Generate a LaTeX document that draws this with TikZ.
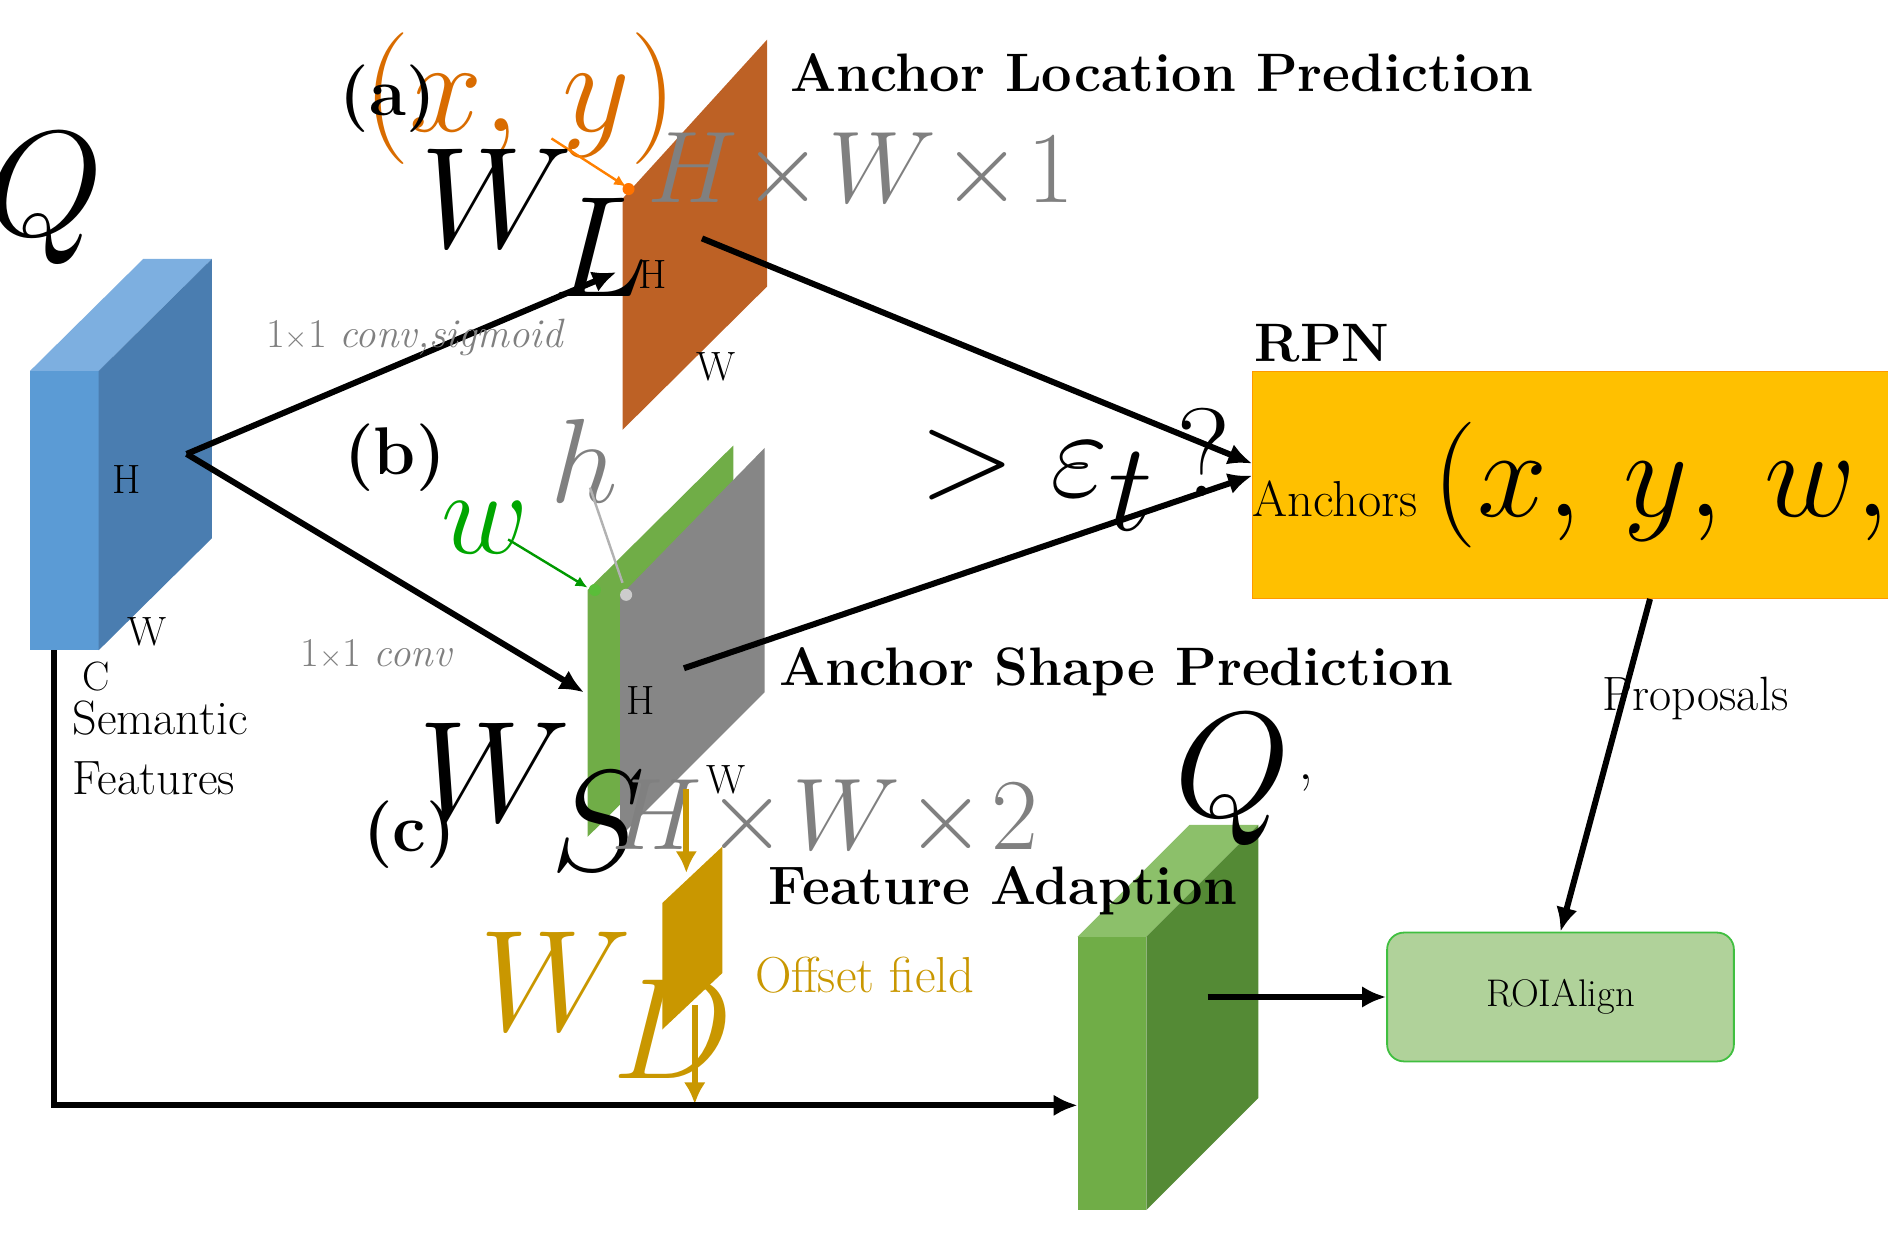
\documentclass[tikz,border=0pt]{standalone}
\usetikzlibrary{arrows.meta}
\newcommand{\mS}[2]{\scalebox{#1}{$#2$}}
\begin{document}
\begin{tikzpicture}[x=1pt,y=-1pt,
  lbl/.style={inner sep=0pt,font=\fontsize{34}{38}\selectfont},
  big/.style={inner sep=0pt,font=\fontsize{40}{44}\selectfont},
  bld/.style={inner sep=0pt,font=\fontsize{45}{48}\selectfont\bfseries},
  gry/.style={inner sep=0pt,text=gray,font=\fontsize{34}{38}\selectfont},
  arr/.style={line width=5pt,-{Latex[length=20pt,width=18pt]}},
  thin/.style={line width=2pt,-{Latex[length=10pt,width=9pt]}}]
\definecolor{bF}{HTML}{5B9BD5}\definecolor{bT}{HTML}{7DAFE0}\definecolor{bS}{HTML}{4A7DB0}
\definecolor{gF}{HTML}{70AD47}\definecolor{gT}{HTML}{8CC06A}\definecolor{gS}{HTML}{548A35}
\definecolor{org}{HTML}{BD6125}\definecolor{gold}{HTML}{C99700}\definecolor{yel}{HTML}{FFC000}
\useasboundingbox (0,0) rectangle (1568,1030);
% Q box
\fill[bF] (25,308) rectangle (82,540);
\fill[bT] (25,308)--(82,308)--(176,215)--(119,215)--cycle;
\fill[bS] (82,308)--(176,215)--(176,447)--(82,540)--cycle;
\node[big] (Q) at (38,165) {\mS{5}{Q}};
\node[lbl] (qh) at (105,398) {H};
\node[lbl] (qw) at (122,525) {W};
\node[lbl] (qc) at (80,562) {C};
\node[big,align=left,anchor=north west,font=\fontsize{40}{50}\selectfont] (sf) at (60,582) {Semantic\\Features};
\coordinate (qo) at (155,377);
% orange plane
\fill[org] (517,165)--(637,33)--(637,238)--(517,357)--cycle;
\fill[orange!90!red] (522,157) circle (5);
\coordinate (xyd) at (520,155);
\node[big,text=orange!85!black] (xy) at (432,82) {\mS{4.4}{(x,\,y)}};
\draw[thin,orange] (458,115) -- (xyd);
\node[lbl] (ah) at (542,228) {H};
\node[lbl] (aw) at (595,305) {W};
\node[big] (WL) at (445,185) {\mS{4.8}{W_L}};
\node[gry] (d1) at (715,143) {\mS{3.4}{H\!\times\!W\!\times\!1}};
\node[bld] (alp) at (965,60) {Anchor Location Prediction};
\node[bld,font=\fontsize{56}{60}\selectfont\bfseries] (a) at (322,82) {(a)};
% green / gray planes
\fill[gF] (488,490)--(609,370)--(609,575)--(488,695)--cycle;
\fill[gray!95] (515,495)--(635,372)--(635,575)--(515,695)--cycle;
\fill[gF!80!green] (494,490) circle (5);
\fill[gray!40] (520,494) circle (5);
\coordinate (wd) at (488,488);\coordinate (hd) at (517,484);
\node[lbl,text=green!65!black] (w) at (403,438) {\mS{4}{w}};
\draw[thin,green!60!black] (422,448) -- (wd);
\node[lbl,text=gray] (h) at (485,383) {\mS{4}{h}};
\draw[line width=2pt,gray!60] (490,405) -- (hd);
\node[lbl] (bh) at (532,582) {H};
\node[lbl] (bw) at (603,648) {W};
\node[big] (WS) at (443,662) {\mS{4.8}{W_S}};
\node[gry] (d2) at (685,680) {\mS{3.4}{H\!\times\!W\!\times\!2}};
\node[bld,font=\fontsize{56}{60}\selectfont\bfseries] (b) at (328,380) {(b)};
\node[bld,font=\fontsize{56}{60}\selectfont\bfseries] (c) at (340,693) {(c)};
\node[bld] (asp) at (927,558) {Anchor Shape Prediction};
% conv arrows
\coordinate (ain) at (512,226);\coordinate (bin) at (485,575);
\draw[arr] (qo) -- (ain);
\draw[arr] (qo) -- (bin);
\node[gry] (c1) at (345,280) {1$\times$1 \textit{conv,sigmoid}};
\node[gry] (c2) at (313,543) {1$\times$1 \textit{conv}};
% RPN
\node[fill=yel,draw=orange!80!yellow,minimum width=510pt,minimum height=189pt,inner sep=0pt,anchor=north west,font=\fontsize{42}{46}\selectfont] (rpn) at (1040,308) {Anchors \mS{4.2}{(x,\,y,\,w,\,h)}};
\node[bld] (rl) at (1098,285) {RPN};
\coordinate (ao) at (583,198);\coordinate (bo) at (568,555);
\draw[arr] (ao) -- (1040,385);
\draw[arr] (bo) -- (1040,395);
\node[lbl] (eps) at (893,390) {\mS{4.2}{>\varepsilon_t\,?}};
% ROIAlign
\node[draw=green!50!gray,line width=1.5pt,fill=gF!55!white,rounded corners=14pt,minimum width=288pt,minimum height=107pt,font=\fontsize{32}{36}\selectfont] (roi) at (1296,828) {ROIAlign};
\draw[arr] (rpn.south) -- (roi.north);
\node[big] (prop) at (1408,580) {Proposals};
% Q' box
\fill[gF] (895,778) rectangle (952,1005);
\fill[gT] (895,778)--(952,778)--(1045,685)--(988,685)--cycle;
\fill[gS] (952,778)--(1045,685)--(1045,912)--(952,1005)--cycle;
\node[big] (Qp) at (1033,648) {\mS{5}{Q}\,\fontsize{50}{54}\selectfont'};
\coordinate (qpo) at (1003,828);
\draw[arr] (qpo) -- (roi.west);
\node[bld] (fa) at (833,740) {Feature Adaption};
% offset field
\fill[gold] (550,750)--(600,703)--(600,808)--(550,855)--cycle;
\coordinate (g1) at (570,655);\coordinate (g2) at (570,725);
\coordinate (g3) at (577,835);\coordinate (g4) at (577,917);
\draw[line width=5pt,gold,-{Latex[length=18pt,width=18pt]}] (g1) -- (g2);
\draw[line width=5pt,gold,-{Latex[length=18pt,width=18pt]}] (g3) -- (g4);
\node[big,text=gold] (WD) at (505,835) {\mS{4.8}{W_D}};
\node[big,text=gold,font=\fontsize{42}{46}\selectfont] (of) at (718,810) {Offset field};
% bottom path
\coordinate (s1) at (45,540);\coordinate (s2) at (45,918);\coordinate (s3) at (895,918);
\draw[line width=5pt,-{Latex[length=20pt,width=18pt]}] (s1) -- (s2) -- (s3);
\end{tikzpicture}
\end{document}
